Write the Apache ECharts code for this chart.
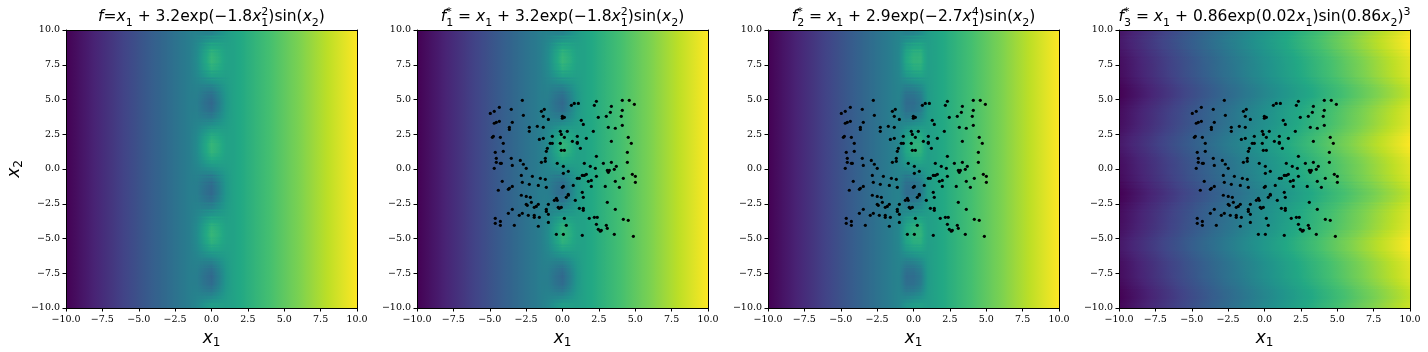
<!DOCTYPE html>
<html>
<head>
<meta charset="utf-8">
<style>
  html, body { margin: 0; padding: 0; background: #fff; }
  #chart { width: 1428px; height: 352px; }
</style>
<script src="https://cdn.jsdelivr.net/npm/echarts@6/dist/echarts.min.js"></script>
</head>
<body>
<div id="chart"></div>
<script>
const viridis = ["#440154", "#482475", "#414487", "#355f8d", "#2a788e", "#21918c", "#22a884", "#44bf70", "#7ad151", "#bddf26", "#fde725"];

// row centres of the field tables, top to bottom
const rowY = [9.75, 9.25, 8.75, 8.25, 7.75, 7.25, 6.75, 6.25, 5.75, 5.25, 4.75, 4.25, 3.75, 3.25, 2.75, 2.25, 1.75, 1.25, 0.75, 0.25,
  -0.25, -0.75, -1.25, -1.75, -2.25, -2.75, -3.25, -3.75, -4.25, -4.75, -5.25, -5.75, -6.25, -6.75, -7.25, -7.75, -8.25, -8.75, -9.25, -9.75];

// far from x1=0 the first three fields only change with x1
const outerLeftX = [-10, -7.5, -5, -3.5, -2.5, -1.5];
const outerLeftValues = [-10, -7.5, -5, -3.5, -2.5, -1.5];
const outerRightX = [1.5, 2.5, 3.5, 5, 7.5, 10];
const outerRightValues = [1.5, 2.5, 3.5, 5, 7.5, 10];

const centerXTarget = [-1, -0.5, 0, 0.5, 1];
const centerTarget = [
  [-1.17, -1.15, -1.02, -0.15, 0.83], [-0.91, -0.15, 0.56, 0.85, 1.09], [-0.67, 0.77, 2.0, 1.77, 1.33], [-0.51, 1.38, 2.95, 2.38, 1.49],
  [-0.47, 1.53, 3.18, 2.53, 1.53], [-0.56, 1.18, 2.63, 2.18, 1.44], [-0.76, 0.42, 1.44, 1.42, 1.24], [-1.02, -0.57, -0.11, 0.43, 0.98],
  [-1.27, -1.54, -1.63, -0.54, 0.73], [-1.46, -2.25, -2.75, -1.25, 0.54], [-1.53, -2.54, -3.2, -1.54, 0.47], [-1.47, -2.33, -2.86, -1.33, 0.53],
  [-1.3, -1.67, -1.83, -0.67, 0.7], [-1.06, -0.72, -0.35, 0.28, 0.94], [-0.8, 0.28, 1.22, 1.28, 1.2], [-0.59, 1.09, 2.49, 2.09, 1.41],
  [-0.48, 1.51, 3.15, 2.51, 1.52], [-0.5, 1.44, 3.04, 2.44, 1.5], [-0.64, 0.89, 2.18, 1.89, 1.36], [-0.87, 0.0, 0.79, 1.0, 1.13],
  [-1.13, -1.0, -0.79, 0.0, 0.87], [-1.36, -1.89, -2.18, -0.89, 0.64], [-1.5, -2.44, -3.04, -1.44, 0.5], [-1.52, -2.51, -3.15, -1.51, 0.48],
  [-1.41, -2.09, -2.49, -1.09, 0.59], [-1.2, -1.28, -1.22, -0.28, 0.8], [-0.94, -0.28, 0.35, 0.72, 1.06], [-0.7, 0.67, 1.83, 1.67, 1.3],
  [-0.53, 1.33, 2.86, 2.33, 1.47], [-0.47, 1.54, 3.2, 2.54, 1.53], [-0.54, 1.25, 2.75, 2.25, 1.46], [-0.73, 0.54, 1.63, 1.54, 1.27],
  [-0.98, -0.43, 0.11, 0.57, 1.02], [-1.24, -1.42, -1.44, -0.42, 0.76], [-1.44, -2.18, -2.63, -1.18, 0.56], [-1.53, -2.53, -3.18, -1.53, 0.47],
  [-1.49, -2.38, -2.95, -1.38, 0.51], [-1.33, -1.77, -2.0, -0.77, 0.67], [-1.09, -0.85, -0.56, 0.15, 0.91], [-0.83, 0.15, 1.02, 1.15, 1.17]
];

const centerXSecond = [-1, -0.75, -0.5, 0, 0.5, 0.75, 1];
const centerSecond = [
  [-1.06, -1.14, -1.28, -0.93, -0.28, 0.36, 0.94], [-0.97, -0.54, -0.08, 0.49, 0.92, 0.96, 1.03], [-0.88, 0.01, 1.02, 1.8, 2.02, 1.51, 1.12],
  [-0.83, 0.38, 1.76, 2.67, 2.76, 1.88, 1.17], [-0.81, 0.47, 1.94, 2.87, 2.94, 1.97, 1.19], [-0.84, 0.26, 1.51, 2.38, 2.51, 1.76, 1.16],
  [-0.91, -0.2, 0.6, 1.31, 1.6, 1.3, 1.09], [-1.01, -0.79, -0.58, -0.09, 0.42, 0.71, 0.99], [-1.1, -1.38, -1.75, -1.48, -0.75, 0.12, 0.9],
  [-1.16, -1.81, -2.6, -2.49, -1.6, -0.31, 0.84], [-1.19, -1.98, -2.95, -2.9, -1.95, -0.48, 0.81], [-1.17, -1.86, -2.7, -2.6, -1.7, -0.36, 0.83],
  [-1.11, -1.45, -1.9, -1.66, -0.9, 0.05, 0.89], [-1.02, -0.88, -0.77, -0.31, 0.23, 0.62, 0.98], [-0.93, -0.28, 0.43, 1.11, 1.43, 1.22, 1.07],
  [-0.85, 0.21, 1.41, 2.26, 2.41, 1.71, 1.15], [-0.81, 0.46, 1.9, 2.85, 2.9, 1.96, 1.19], [-0.82, 0.42, 1.83, 2.76, 2.83, 1.92, 1.18],
  [-0.87, 0.09, 1.17, 1.98, 2.17, 1.59, 1.13], [-0.95, -0.45, 0.11, 0.73, 1.11, 1.06, 1.05], [-1.05, -1.06, -1.11, -0.73, -0.11, 0.45, 0.95],
  [-1.13, -1.59, -2.17, -1.98, -1.17, -0.09, 0.87], [-1.18, -1.92, -2.83, -2.76, -1.83, -0.42, 0.82], [-1.19, -1.96, -2.9, -2.85, -1.9, -0.46, 0.81],
  [-1.15, -1.71, -2.41, -2.26, -1.41, -0.21, 0.85], [-1.07, -1.22, -1.43, -1.11, -0.43, 0.28, 0.93], [-0.98, -0.62, -0.23, 0.31, 0.77, 0.88, 1.02],
  [-0.89, -0.05, 0.9, 1.66, 1.9, 1.45, 1.11], [-0.83, 0.36, 1.7, 2.6, 2.7, 1.86, 1.17], [-0.81, 0.48, 1.95, 2.9, 2.95, 1.98, 1.19],
  [-0.84, 0.31, 1.6, 2.49, 2.6, 1.81, 1.16], [-0.9, -0.12, 0.75, 1.48, 1.75, 1.38, 1.1], [-0.99, -0.71, -0.42, 0.09, 0.58, 0.79, 1.01],
  [-1.09, -1.3, -1.6, -1.31, -0.6, 0.2, 0.91], [-1.16, -1.76, -2.51, -2.38, -1.51, -0.26, 0.84], [-1.19, -1.97, -2.94, -2.87, -1.94, -0.47, 0.81],
  [-1.17, -1.88, -2.76, -2.67, -1.76, -0.38, 0.83], [-1.12, -1.51, -2.02, -1.8, -1.02, -0.01, 0.88], [-1.03, -0.96, -0.92, -0.49, 0.08, 0.54, 0.97],
  [-0.94, -0.36, 0.28, 0.93, 1.28, 1.14, 1.06]
];

const columnsThird = [-10, -7.5, -5, -2.5, 0, 2.5, 5, 7.5, 10];
const fieldThird = [
  [-9.55, -7.03, -4.5, -1.98, 0.55, 3.08, 5.61, 8.14, 10.67], [-9.31, -6.77, -4.23, -1.69, 0.85, 3.39, 5.94, 8.49, 11.03],
  [-9.4, -6.87, -4.34, -1.81, 0.73, 3.27, 5.8, 8.35, 10.89], [-9.73, -7.22, -4.7, -2.19, 0.33, 2.85, 5.36, 7.88, 10.4],
  [-9.96, -7.46, -4.96, -2.46, 0.04, 2.55, 5.05, 7.55, 10.05], [-10, -7.5, -5, -2.5, 0, 2.5, 5, 7.5, 10],
  [-10.07, -7.57, -5.08, -2.58, -0.08, 2.41, 4.91, 7.4, 9.9], [-10.34, -7.86, -5.38, -2.9, -0.42, 2.06, 4.53, 7.01, 9.49],
  [-10.65, -8.18, -5.72, -3.25, -0.79, 1.67, 4.13, 6.58, 9.03], [-10.66, -8.2, -5.73, -3.27, -0.81, 1.65, 4.1, 6.56, 9.01],
  [-10.37, -7.89, -5.41, -2.93, -0.46, 2.02, 4.5, 6.97, 9.44], [-10.08, -7.59, -5.09, -2.6, -0.1, 2.39, 4.89, 7.38, 9.88],
  [-10, -7.5, -5, -2.5, 0, 2.5, 5, 7.5, 10], [-9.97, -7.47, -4.97, -2.47, 0.03, 2.54, 5.04, 7.54, 10.04],
  [-9.76, -7.25, -4.73, -2.22, 0.29, 2.81, 5.33, 7.84, 10.36], [-9.43, -6.9, -4.37, -1.83, 0.7, 3.24, 5.77, 8.31, 10.86],
  [-9.3, -6.76, -4.23, -1.69, 0.85, 3.4, 5.94, 8.49, 11.04], [-9.52, -7.0, -4.47, -1.94, 0.59, 3.11, 5.65, 8.18, 10.72],
  [-9.85, -7.34, -4.83, -2.32, 0.19, 2.7, 5.21, 7.72, 10.23], [-9.99, -7.49, -4.99, -2.49, 0.01, 2.51, 5.01, 7.51, 10.01],
  [-10.01, -7.51, -5.01, -2.51, -0.01, 2.49, 4.99, 7.49, 9.99], [-10.15, -7.66, -5.17, -2.68, -0.19, 2.3, 4.79, 7.28, 9.77],
  [-10.48, -8.0, -5.53, -3.06, -0.59, 1.89, 4.35, 6.82, 9.28], [-10.7, -8.24, -5.77, -3.31, -0.85, 1.6, 4.06, 6.51, 8.96],
  [-10.57, -8.1, -5.63, -3.17, -0.7, 1.76, 4.23, 6.69, 9.14], [-10.24, -7.75, -5.27, -2.78, -0.29, 2.19, 4.67, 7.16, 9.64],
  [-10.03, -7.53, -5.03, -2.53, -0.03, 2.46, 4.96, 7.46, 9.96], [-10, -7.5, -5, -2.5, 0, 2.5, 5, 7.5, 10],
  [-9.92, -7.41, -4.91, -2.4, 0.1, 2.61, 5.11, 7.62, 10.12], [-9.63, -7.11, -4.59, -2.07, 0.46, 2.98, 5.5, 8.03, 10.56],
  [-9.34, -6.8, -4.27, -1.73, 0.81, 3.35, 5.9, 8.44, 10.99], [-9.35, -6.82, -4.28, -1.75, 0.79, 3.33, 5.87, 8.42, 10.97],
  [-9.66, -7.14, -4.62, -2.1, 0.42, 2.94, 5.47, 7.99, 10.51], [-9.93, -7.43, -4.92, -2.42, 0.08, 2.59, 5.09, 7.6, 10.1],
  [-10, -7.5, -5, -2.5, 0, 2.5, 5, 7.5, 10], [-10.04, -7.54, -5.04, -2.54, -0.04, 2.45, 4.95, 7.45, 9.95],
  [-10.27, -7.78, -5.3, -2.81, -0.33, 2.15, 4.64, 7.12, 9.6], [-10.6, -8.13, -5.66, -3.19, -0.73, 1.73, 4.2, 6.65, 9.11],
  [-10.69, -8.23, -5.77, -3.31, -0.85, 1.61, 4.06, 6.51, 8.97], [-10.45, -7.97, -5.5, -3.02, -0.55, 1.92, 4.39, 6.86, 9.33]
];

const samplePoints = [
  [-2.76, 4.94], [-4.34, 4.44], [-3.52, 4.29], [-4.69, 4.15], [-4.96, 4.0], [-2.69, 3.86], [-1.45, 4.15], [-1.25, 4.29], [-1.32, 3.79], [-0.97, 3.57],
  [-4.34, 3.43], [-4.55, 3.36], [-4.69, 3.29], [-3.45, 3.36], [-0.01, 3.79], [0.13, 3.72], [-0.01, 3.65], [-1.73, 3.07], [-1.32, 3.0], [-2.28, 3.0],
  [-2.28, 2.71], [-3.65, 3.0], [-3.65, 2.85], [-0.15, 2.71], [0.33, 2.71], [-0.08, 2.49], [-0.7, 2.35], [0.13, 2.28], [-1.32, 2.21], [-1.59, 2.13],
  [-4.75, 2.35], [-4.82, 2.28], [-4.27, 2.28], [-4.07, 1.85], [-0.84, 1.85], [-0.7, 1.85], [-0.15, 1.85], [-1.04, 1.49], [-1.11, 1.27], [0.68, 1.99],
  [1.02, 2.35], [1.02, 1.92], [1.02, 1.85], [1.64, 2.21], [1.23, 1.49], [-0.08, 1.34], [0.13, 1.34], [-4.62, 1.2], [-4.07, 1.27], [-4.55, 0.77],
  [-3.52, 0.77], [-4.55, 0.48], [-4.27, 0.41], [-4.2, 0.41], [-3.45, 0.26], [-2.9, 0.62], [-2.69, 0.34], [-2.49, 0.05], [-4.69, 0.05], [-1.45, 0.48],
  [-1.18, 0.77], [-1.18, 0.55], [-0.36, 0.41], [0.06, 0.19], [1.5, 0.41], [1.91, 0.19], [2.26, 0.05], [2.33, 0.91], [2.81, 0.41], [3.36, 0.48],
  [3.7, 0.19], [3.56, -0.02], [4.46, 0.48], [4.46, 1.2], [4.73, 1.85], [4.52, 2.28], [3.36, 1.99], [2.12, 2.71], [3.15, 3.0], [3.63, 2.93],
  [4.11, 3.14], [1.43, 3.21], [1.29, 3.5], [2.46, 3.72], [3.01, 3.79], [3.29, 4.08], [4.11, 4.22], [4.04, 3.79], [2.19, 4.58], [2.33, 4.87],
  [3.36, 4.51], [4.11, 4.94], [4.59, 4.94], [4.94, 4.65], [0.61, 4.58], [0.81, 4.72], [1.09, 4.72], [3.08, -0.1], [3.22, -0.1], [3.15, -0.24],
  [0.4, -0.17], [0.06, -0.31], [-2.83, -0.46], [-2.07, -0.53], [-1.52, -0.67], [-1.18, -0.74], [1.02, -0.67], [1.16, -0.67], [1.36, -0.46], [1.5, -0.46],
  [1.64, -0.38], [2.33, -0.53], [1.98, -0.82], [1.78, -0.89], [4.18, -0.67], [3.63, -0.89], [4.8, -0.38], [5.01, -0.53], [5.01, -0.96], [-4.14, -0.89],
  [-2.76, -0.96], [-2.28, -1.1], [-1.66, -1.18], [-1.11, -1.32], [0.74, -1.18], [0.06, -1.25], [-0.01, -1.32], [1.98, -1.25], [2.94, -1.25], [3.91, -1.32],
  [-4.41, -1.53], [-3.72, -1.46], [-3.65, -1.39], [-3.45, -1.25], [1.36, -1.68], [0.4, -1.82], [0.4, -1.89], [0.26, -2.04], [-2.83, -1.89], [-2.49, -1.97],
  [-2.21, -2.04], [1.43, -2.04], [-0.42, -2.11], [-0.56, -2.25], [-0.36, -2.25], [0.88, -2.25], [-2.14, -2.4], [-0.97, -2.54], [3.08, -2.4], [-2.49, -2.54],
  [-2.42, -2.61], [-1.66, -2.54], [-1.8, -2.69], [-1.94, -2.76], [-0.29, -2.76], [-0.22, -2.83], [-0.08, -2.76], [1.16, -2.83], [1.43, -2.83], [1.43, -2.97],
  [3.63, -2.9], [-3.45, -2.9], [-3.72, -3.19], [-2.76, -3.19], [-2.97, -3.33], [-2.35, -3.33], [-1.11, -2.9], [-1.11, -3.05], [-0.97, -3.26], [-1.94, -3.33],
  [-1.94, -3.48], [-1.59, -3.48], [0.13, -3.55], [1.84, -3.55], [2.19, -3.48], [2.39, -3.48], [-4.62, -3.55], [-4.27, -3.77], [-4.62, -3.91], [-4.27, -4.05],
  [-3.31, -4.05], [-1.66, -4.12], [-0.97, -3.84], [0.26, -4.05], [2.33, -3.98], [3.01, -4.05], [3.08, -4.27], [4.18, -3.62], [4.52, -3.69], [2.46, -4.34],
  [2.67, -4.41], [2.6, -4.48], [3.56, -4.7], [-0.42, -4.7], [0.06, -4.7], [1.36, -4.77], [4.87, -4.84]
];

const gridLefts = [66, 417, 768, 1119];
const titles = [
  "{i|f}{n|=}{i|x}{s|1}{n| + 3.2exp(−1.8}{i|x}{u|2}{s|1}{n|)sin(}{i|x}{s|2}{n|)}",
  "{i|f}{u|*}{s|1}{n| = }{i|x}{s|1}{n| + 3.2exp(−1.8}{i|x}{u|2}{s|1}{n|)sin(}{i|x}{s|2}{n|)}",
  "{i|f}{u|*}{s|2}{n| = }{i|x}{s|1}{n| + 2.9exp(−2.7}{i|x}{u|4}{s|1}{n|)sin(}{i|x}{s|2}{n|)}",
  "{i|f}{u|*}{s|3}{n| = }{i|x}{s|1}{n| + 0.86exp(0.02}{i|x}{s|1}{n|)sin(0.86}{i|x}{s|2}{n|)}{p|3}"
];

const mathFont = "DejaVu Sans";
const mathRich = {
  n: { align: "left", fontFamily: mathFont, fontSize: 15.5, fontWeight: "normal", lineHeight: 24, color: "#000" },
  i: { align: "left", fontFamily: mathFont, fontSize: 15.5, fontWeight: "normal", fontStyle: "italic", lineHeight: 24, color: "#000" },
  s: { align: "left", fontFamily: mathFont, fontSize: 11, fontWeight: "normal", lineHeight: 11, verticalAlign: "bottom", color: "#000" },
  u: { align: "left", fontFamily: mathFont, fontSize: 11, fontWeight: "normal", lineHeight: 11, width: 0, verticalAlign: "top", padding: [2, 0, 0, 0], color: "#000" },
  p: { align: "left", fontFamily: mathFont, fontSize: 11, fontWeight: "normal", lineHeight: 11, verticalAlign: "top", padding: [2, 0, 0, 0], color: "#000" }
};
const nameRich = {
  i: { align: "left", fontFamily: mathFont, fontSize: 17, fontWeight: "normal", fontStyle: "italic", lineHeight: 20, color: "#000" },
  s: { align: "left", fontFamily: mathFont, fontSize: 12, fontWeight: "normal", lineHeight: 12, verticalAlign: "bottom", color: "#000" }
};

function tickLabel(v) {
  return (v < 0 ? "−" : "") + Math.abs(v).toFixed(1);
}

function colorOf(v, vmin, vmax) {
  const t = Math.max(0, Math.min(1, (v - vmin) / (vmax - vmin)));
  return echarts.color.lerp(t, viridis);
}

// one band per table row: horizontal gradient through that row's values,
// plus half-opaque wings over the neighbouring bands to soften the row steps
function bandRenderer(columns, table, vmin, vmax) {
  return function (params, api) {
    const row = table[params.dataIndex];
    const y = api.value(0);
    const a = api.coord([columns[0], y + 0.25]);
    const b = api.coord([columns[columns.length - 1], y - 0.25]);
    const rowPx = b[1] - a[1];
    const span = columns[columns.length - 1] - columns[0];
    const stops = [];
    for (let c = 0; c < columns.length - 1; c++) {
      const sub = 10;
      for (let k = 0; k <= sub; k++) {
        const f = k / sub;
        stops.push({
          offset: (columns[c] + f * (columns[c + 1] - columns[c]) - columns[0]) / span,
          color: colorOf(row[c] + f * (row[c + 1] - row[c]), vmin, vmax)
        });
      }
    }
    const fill = new echarts.graphic.LinearGradient(0, 0, 1, 0, stops);
    const top = Math.floor(a[1]);
    const width = b[0] - a[0];
    return {
      type: "group",
      children: [
        { type: "rect", z2: 0, shape: { x: a[0], y: top, width: width, height: Math.ceil(b[1]) - top }, style: { fill: fill } },
        { type: "rect", z2: 1, shape: { x: a[0], y: a[1] - rowPx / 4, width: width, height: rowPx / 4 }, style: { fill: fill, opacity: 0.5 } },
        { type: "rect", z2: 1, shape: { x: a[0], y: b[1], width: width, height: rowPx / 4 }, style: { fill: fill, opacity: 0.5 } }
      ]
    };
  };
}

function withOuter(center) {
  return center.map(function (r) { return outerLeftValues.concat(r, outerRightValues); });
}

const columnSets = [
  outerLeftX.concat(centerXTarget, outerRightX),
  outerLeftX.concat(centerXTarget, outerRightX),
  outerLeftX.concat(centerXSecond, outerRightX),
  columnsThird
];
const tables = [withOuter(centerTarget), withOuter(centerTarget), withOuter(centerSecond), fieldThird];
const ranges = [[-10, 10], [-10, 10], [-10, 10], [-10.7, 11.04]];

const grid = [], xAxis = [], yAxis = [], title = [], series = [];

gridLefts.forEach(function (left, p) {
  grid.push({ left: left, top: 30, width: 291, height: 278, outerBoundsMode: "none" });
  title.push({
    text: titles[p], left: left + 145.5, top: 5, padding: 0, textAlign: "center",
    textStyle: { fontWeight: "normal", rich: mathRich }
  });
  const lineStyle = { color: "#000", width: 1 };
  xAxis.push({
    type: "value", gridIndex: p, min: -10, max: 10, interval: 2.5, z: 10,
    name: "{i|x}{s|1}", nameLocation: "middle", nameGap: 17,
    nameTextStyle: { fontWeight: "normal", rich: nameRich },
    axisLine: { onZero: false, lineStyle: lineStyle },
    axisTick: { length: 3.5, lineStyle: lineStyle },
    axisLabel: { margin: 7, fontFamily: "DejaVu Serif", fontSize: 9.5, color: "#000", formatter: tickLabel, hideOverlap: false, showMinLabel: true, showMaxLabel: true },
    splitLine: { show: false }
  });
  xAxis.push({
    type: "value", gridIndex: p, position: "top", min: -10, max: 10, interval: 2.5, z: 10,
    axisLine: { onZero: false, lineStyle: lineStyle }, axisTick: { show: false }, axisLabel: { show: false }, splitLine: { show: false }
  });
  yAxis.push({
    type: "value", gridIndex: p, min: -10, max: 10, interval: 2.5, z: 10,
    name: p === 0 ? "{i|x}{s|2}" : "", nameLocation: "middle", nameGap: 41,
    nameTextStyle: { fontWeight: "normal", rich: nameRich },
    axisLine: { onZero: false, lineStyle: lineStyle },
    axisTick: { length: 3.5, lineStyle: lineStyle },
    axisLabel: { margin: 6, padding: [2, 0, 0, 0], fontFamily: "DejaVu Serif", fontSize: 9.5, color: "#000", formatter: tickLabel, hideOverlap: false, showMinLabel: true, showMaxLabel: true },
    splitLine: { show: false }
  });
  yAxis.push({
    type: "value", gridIndex: p, position: "right", min: -10, max: 10, interval: 2.5, z: 10,
    axisLine: { onZero: false, lineStyle: lineStyle }, axisTick: { show: false }, axisLabel: { show: false }, splitLine: { show: false }
  });
  series.push({
    type: "custom", xAxisIndex: p * 2, yAxisIndex: p * 2, silent: true, clip: true, z: 2,
    renderItem: bandRenderer(columnSets[p], tables[p], ranges[p][0], ranges[p][1]),
    encode: { y: 0 }, data: rowY.map(function (y) { return [y]; })
  });
});

[1, 2, 3].forEach(function (p) {
  series.push({
    type: "scatter", xAxisIndex: p * 2, yAxisIndex: p * 2, symbolSize: 3.2, z: 5, silent: true,
    itemStyle: { color: "#000", opacity: 1 }, data: samplePoints
  });
});

const chart = echarts.init(document.getElementById("chart"), null, { renderer: "canvas" });
chart.setOption({
  animation: false,
  backgroundColor: "#fff",
  title: title, grid: grid, xAxis: xAxis, yAxis: yAxis, series: series
});
</script>
</body>
</html>
